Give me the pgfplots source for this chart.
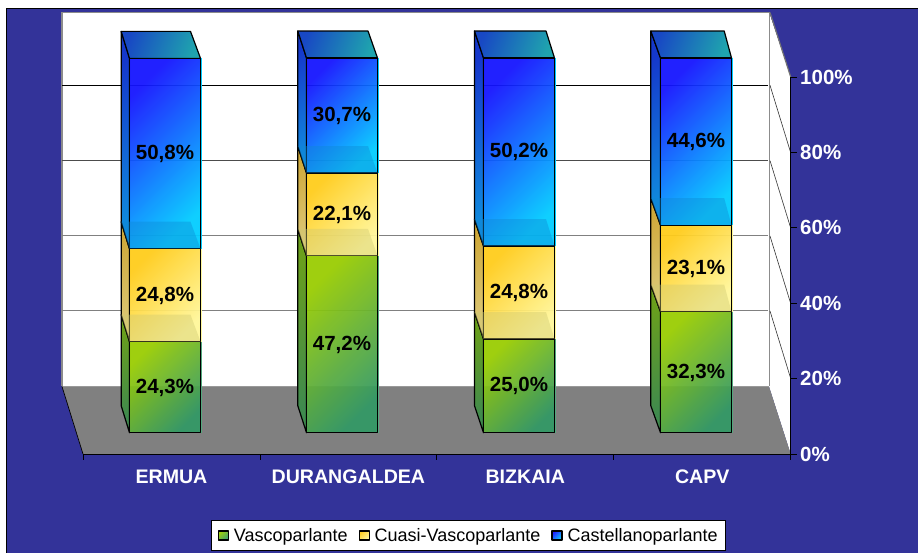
\documentclass[border=0pt]{standalone}
\usepackage{pgfplots}
\pgfplotsset{compat=1.18}
\usepackage{fontspec}
\setmainfont{Liberation Sans}
\definecolor{navy}{HTML}{333399}
\definecolor{blueA}{HTML}{1414FF}\definecolor{blueB}{HTML}{00CCFF}
\definecolor{yelA}{HTML}{FFCC1A}\definecolor{yelB}{HTML}{FFF79A}
\definecolor{grnA}{HTML}{99CC00}\definecolor{grnB}{HTML}{339966}
\definecolor{blueSA}{HTML}{1538CC}\definecolor{blueSB}{HTML}{1088DD}
\definecolor{yelSA}{HTML}{CFA93A}\definecolor{yelSB}{HTML}{DCC878}
\definecolor{grnSA}{HTML}{6A9F1C}\definecolor{grnSB}{HTML}{3F8A4E}
\definecolor{topA}{HTML}{1848C4}\definecolor{topB}{HTML}{1FA4AE}
\pgfplotsset{
  baraxis/.style={
    at={(76.5pt,120.3pt)}, anchor=south west, scale only axis,
    width=708pt, height=374.7pt, hide axis, clip=false,
    xmin=-0.5, xmax=3.5, ymin=0, ymax=100, enlargelimits=false},
  edge/.style={draw=black, line width=1.2pt, line join=round},
  fg/.style={edge, top color=grnA, bottom color=grnB, shading angle=45, fill opacity=.94},
  fy/.style={edge, top color=yelA, bottom color=yelB, shading angle=45, fill opacity=.94},
  fb/.style={edge, top color=blueA, bottom color=blueB, shading angle=45, fill opacity=.94},
}
\def\w{0.2006}
\def\dy{7.2}
\newcommand{\Side}[5]{% c, dxL(px), lo, hi, colours
  \pgfmathsetmacro\xa{#1-\w}\pgfmathsetmacro\xb{#1-\w-#2/177}%
  \pgfmathsetmacro\ya{#3+\dy}\pgfmathsetmacro\yb{#4+\dy}%
  \addplot[edge, #5, shading angle=30] coordinates {(\xa,#3)(\xa,#4)(\xb,\yb)(\xb,\ya)} -- cycle;
}
\newcommand{\Top}[4]{% c, dxL, dxR, hi
  \pgfmathsetmacro\xa{#1-\w}\pgfmathsetmacro\xb{#1+\w}%
  \pgfmathsetmacro\xc{#1+\w-#3/177}\pgfmathsetmacro\xd{#1-\w-#2/177}%
  \pgfmathsetmacro\ya{#4+\dy}%
  \addplot[edge, left color=topA, right color=topB, shading angle=70] coordinates {(\xa,#4)(\xb,#4)(\xc,\ya)(\xd,\ya)} -- cycle;
}
\newcommand{\Fringe}[4]{% c, lo, hi, colour
  \pgfmathsetmacro\xa{#1+\w}\pgfmathsetmacro\xb{#1+\w+0.011}%
  \addplot[draw=none, fill=#4] coordinates {(\xa,#2)(\xb,#2)(\xb,#3)(\xa,#3)} -- cycle;
}
\newcommand{\Inner}[5]{% c, dxL, dxR, lo, colour
  \pgfmathsetmacro\xa{#1-\w}\pgfmathsetmacro\xb{#1+\w}%
  \pgfmathsetmacro\xc{#1+\w-#3/177}\pgfmathsetmacro\xd{#1-\w-#2/177}%
  \pgfmathsetmacro\ya{#4+\dy}%
  \addplot[draw=none, fill=#5, fill opacity=0.4] coordinates {(\xa,#4)(\xb,#4)(\xc,\ya)(\xd,\ya)} -- cycle;
}
\begin{document}
\begin{tikzpicture}
\useasboundingbox (0pt,0pt) rectangle (918pt,553pt);
\begin{scope}[x=1pt, y=-1pt, yshift=553pt]
  % frame and walls
  \fill[white] (0,0) rectangle (918,553);
  \fill[navy] (6,8.5) rectangle (918,553);
  \draw[black, line width=1pt] (6,553) -- (6,8.5) -- (918,8.5);
  \fill[white] (62,12) rectangle (769,386.5);
  \fill[white] (769,12) -- (790.7,77) -- (790.7,454) -- (769,386.5) -- cycle;
  \fill[gray] (62,386.5) -- (769,386.5) -- (790.7,454) -- (83,454) -- cycle;
  \draw[black!45, line width=1.5pt] (62,386.5) -- (62,12.5) -- (769.5,12.5) -- (769.5,386.5);
  \draw[black!40, line width=1pt] (62,386.5) -- (769,386.5);
  \draw[black!55, line width=1.2pt] (770,12.5) -- (790.7,77);
  \draw[black, line width=.7pt] (62,386.5) -- (83,454);
  % grid
  \draw[black, line width=.8pt] (62,85.3) -- (768,85.3);
  \draw[black!70, line width=.9pt] (62,160.6) -- (768,160.6);
  \draw[black!50, line width=1pt] (62,236) -- (768,236);
  \draw[black!50, line width=1pt] (62,311) -- (768,311);
  \draw[black!80, line width=.6pt]
    (770,85.3) -- (790.7,152.7) (770,160.6) -- (790.7,228)
    (770,236) -- (790.7,303.5) (770,311) -- (790.7,378.5);
\end{scope}
% value and category axis
\begin{axis}[
  at={(83pt,99pt)}, anchor=south west, scale only axis,
  width=707.7pt, height=377pt,
  xmin=0, xmax=4, ymin=0, ymax=100, enlargelimits=false,
  axis x line=bottom, axis y line=right,
  axis line style={-, black, line width=.9pt},
  xtick={0,1,2,3,4}, x tick label as interval,
  xticklabels={ERMUA,DURANGALDEA,BIZKAIA,CAPV},
  ytick={0,20,40,60,80,100},
  yticklabels={0\%,20\%,40\%,60\%,80\%,100\%},
  tick align=outside, major tick length=6pt,
  tick style={black, line width=.8pt},
  yticklabel style={text=white, font=\fontsize{20.5}{22}\selectfont\bfseries},
  xticklabel style={text=white, font=\fontsize{19.6}{22}\selectfont\bfseries, yshift=-6.5pt},
]
\addplot[draw=none] coordinates {(0,0)(4,100)};
\end{axis}
% side and top faces
\begin{axis}[baraxis]
\Side{0}{8.3}{0}{24.3}{left color=grnSA, right color=grnSB}
\Side{0}{8.3}{24.3}{49.1}{left color=yelSA, right color=yelSB}
\Side{0}{8.3}{49.1}{99.9}{left color=blueSA, right color=blueSB}
\Top{0}{8.3}{10}{99.9}
\Side{1}{8.7}{0}{47.2}{left color=grnSA, right color=grnSB}
\Side{1}{8.7}{47.2}{69.3}{left color=yelSA, right color=yelSB}
\Side{1}{8.7}{69.3}{100}{left color=blueSA, right color=blueSB}
\Top{1}{8.7}{9.5}{100}
\Side{2}{9}{0}{25.0}{left color=grnSA, right color=grnSB}
\Side{2}{9}{25.0}{49.8}{left color=yelSA, right color=yelSB}
\Side{2}{9}{49.8}{100}{left color=blueSA, right color=blueSB}
\Top{2}{9}{8.5}{100}
\Side{3}{9.7}{0}{32.3}{left color=grnSA, right color=grnSB}
\Side{3}{9.7}{32.3}{55.4}{left color=yelSA, right color=yelSB}
\Side{3}{9.7}{55.4}{100}{left color=blueSA, right color=blueSB}
\Top{3}{9.7}{7.3}{100}
% light fringe at the right of each front face
\Fringe{0}{0}{24.3}{grnB!85!white}\Fringe{0}{24.3}{49.1}{yelB}\Fringe{0}{49.1}{99.9}{blueB}
\Fringe{1}{0}{47.2}{grnB!85!white}\Fringe{1}{47.2}{69.3}{yelB}\Fringe{1}{69.3}{100}{blueB}
\Fringe{2}{0}{25.0}{grnB!85!white}\Fringe{2}{25.0}{49.8}{yelB}\Fringe{2}{49.8}{100}{blueB}
\Fringe{3}{0}{32.3}{grnB!85!white}\Fringe{3}{32.3}{55.4}{yelB}\Fringe{3}{55.4}{100}{blueB}
\end{axis}
% front faces: the stacked data, one axis per column so that each bar has its own gradient
\begin{axis}[baraxis, ybar stacked, bar width=71pt,
  legend columns=3,
  legend cell align=left,
  legend style={at={(0.554,-0.2744)}, anchor=center, draw=black, line width=.8pt,
    fill=white, font=\fontsize{18}{20}\selectfont, inner xsep=6pt, inner ysep=6pt,
    /tikz/every even column/.append style={column sep=9pt},
    /tikz/every odd column/.append style={column sep=3pt}},
  legend image code/.code={\draw[#1, line width=1.1pt] (0pt,-4.5pt) rectangle (10pt,4.5pt);},
]
\addplot[fg] coordinates {(0,24.3)};
\addplot[fy] coordinates {(0,24.8)};
\addplot[fb] coordinates {(0,50.8)};
\legend{Vascoparlante,Cuasi-Vascoparlante,Castellanoparlante}
\end{axis}
\begin{axis}[baraxis, ybar stacked, bar width=71pt]
\addplot[fg] coordinates {(1,47.2)};
\addplot[fy] coordinates {(1,22.1)};
\addplot[fb] coordinates {(1,30.7)};
\end{axis}
\begin{axis}[baraxis, ybar stacked, bar width=71pt]
\addplot[fg] coordinates {(2,25.0)};
\addplot[fy] coordinates {(2,24.8)};
\addplot[fb] coordinates {(2,50.2)};
\end{axis}
\begin{axis}[baraxis, ybar stacked, bar width=71pt]
\addplot[fg] coordinates {(3,32.3)};
\addplot[fy] coordinates {(3,23.1)};
\addplot[fb] coordinates {(3,44.6)};
\end{axis}
% inner top faces seen through the front, and data labels
\begin{axis}[baraxis]
\Inner{0}{8.3}{10}{24.3}{olive!45!white}\Inner{0}{8.3}{10}{49.1}{cyan!70!blue}
\Inner{1}{8.7}{9.5}{47.2}{olive!45!white}\Inner{1}{8.7}{9.5}{69.3}{cyan!70!blue}
\Inner{2}{9}{8.5}{25.0}{olive!45!white}\Inner{2}{9}{8.5}{49.8}{cyan!70!blue}
\Inner{3}{9.7}{7.3}{32.3}{olive!45!white}\Inner{3}{9.7}{7.3}{55.4}{cyan!70!blue}
\addplot[only marks, mark=none, point meta=explicit,
  nodes near coords={\pgfmathprintnumber[fixed, fixed zerofill, precision=1, use comma, assume math mode=true]{\pgfplotspointmeta}\%},
  every node near coord/.append style={anchor=center, yshift=-0.3pt, text=black, font=\fontsize{20.5}{22}\selectfont\bfseries},
] table[x=x, y=y, meta=v] {
x y v
0 12.15 24.3
0 36.7 24.8
0 74.5 50.8
1 23.6 47.2
1 58.25 22.1
1 84.65 30.7
2 12.5 25.0
2 37.4 24.8
2 74.9 50.2
3 16.15 32.3
3 43.85 23.1
3 77.7 44.6
};
\end{axis}
\end{tikzpicture}
\end{document}
